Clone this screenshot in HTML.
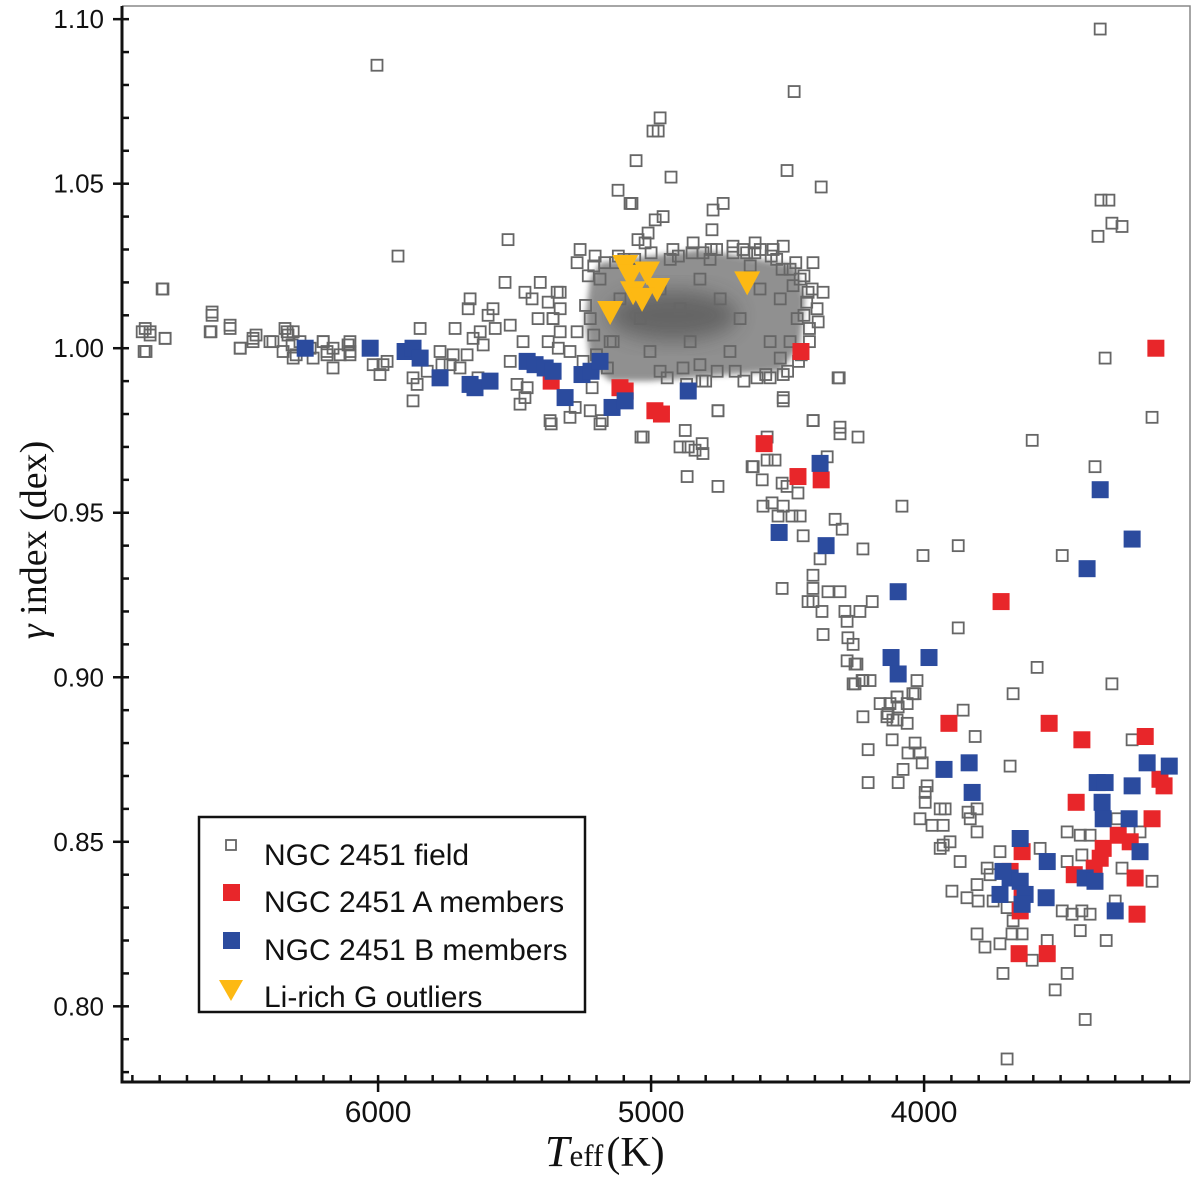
<!DOCTYPE html>
<html><head><meta charset="utf-8"><style>
html,body{margin:0;padding:0;background:#fff;}
svg{display:block;}
</style></head><body>
<svg id="chart" width="1200" height="1182" viewBox="0 0 1200 1182" xmlns="http://www.w3.org/2000/svg">
<defs>
<filter id="blur" x="-20%" y="-20%" width="140%" height="140%"><feGaussianBlur stdDeviation="3"/></filter>
<filter id="blur2" x="-30%" y="-30%" width="160%" height="160%"><feGaussianBlur stdDeviation="10"/></filter>
</defs>
<g id="plot"></g>
<g id="axes"></g>
<g>
<rect x="199" y="817" width="386" height="195" fill="#fff" stroke="#111" stroke-width="2.5"/>
<rect x="226" y="840" width="10" height="10" fill="none" stroke="#666" stroke-width="1.8"/>
<text x="264" y="865" font-family="Liberation Sans, sans-serif" font-size="30" fill="#111">NGC 2451 field</text>
<rect x="223" y="884" width="17" height="17" fill="#e8262a"/>
<text x="264" y="912" font-family="Liberation Sans, sans-serif" font-size="30" fill="#111">NGC 2451 A members</text>
<rect x="223" y="932" width="17" height="17" fill="#2b4b9e"/>
<text x="264" y="960" font-family="Liberation Sans, sans-serif" font-size="30" fill="#111">NGC 2451 B members</text>
<polygon points="219,980 243,980 231,1001" fill="#fdb913"/>
<text x="264" y="1007" font-family="Liberation Sans, sans-serif" font-size="30" fill="#111">Li-rich G outliers</text>
</g>
<text x="545" y="1166" font-family="Liberation Serif, serif" fill="#111"><tspan font-size="44" font-style="italic">T</tspan><tspan font-size="31">eff</tspan><tspan font-size="42" dx="3">(K)</tspan></text>
<text transform="translate(46,540) rotate(-90)" text-anchor="middle" font-family="Liberation Serif, serif" font-size="38" fill="#111"><tspan font-style="italic">γ</tspan> index (dex)</text>
</svg>
<script>
const fieldT=[6853,6850,6835,6780,6788,6612,6608,6542,6505,6458,6447,6396,6341,6330,6315,6286,6300,6249,6201,6187,6165,6110,6103,5927,5846,5718,5663,5670,5579,5597,5535,5626,5571,5516,5652,5615,5469,5406,5462,5436,5344,5377,5414,5359,5333,5377,5516,5491,5454,5462,5370,5872,5857,5872,5820,5773,5766,5736,5700,5674,5725,5993,5982,5967,6018,6103,6103,6165,6139,6201,6187,6238,6311,6348,6385,6333,6311,6458,6505,6542,6615,6608,6791,6780,6835,6864,6857,
5070,4773,4736,4777,4956,4985,5011,5048,5022,5260,5271,5205,4846,4810,4619,4663,4516,4553,4407,4370,4425,4392,4388,4465,4491,4527,4516,4564,4612,4692,4758,4813,4883,4941,5333,5333,5359,5340,5297,5271,5249,5216,5278,5223,5297,5179,4755,4516,4406,4315,4308,5139,
4516,4755,4407,4308,4242,5029,4875,4894,4864,4813,4810,4839,4868,4755,4575,4630,4626,4575,4546,4593,4520,4502,4462,4355,4590,4557,4516,4535,4484,4454,4443,4326,4300,4224,4081,4004,4381,4407,4520,4407,4407,4425,4374,4352,4308,4290,4235,4190,4282,4370,4279,4260,4282,4246,4260,4227,4198,4161,4099,4041,4026,4062,4132,4099,4062,4224,3875,3875,
4253,4224,4253,4033,4099,4125,4095,4136,4114,4117,4033,4059,4015,4007,4077,4205,4205,4095,3989,3996,3996,3941,3923,4015,3971,3930,3930,3905,3941,3839,3806,3831,3806,3868,3898,3843,3802,3806,3769,3758,3722,3857,3813,3674,3685,3586,3312,3238,3575,3476,3428,3392,3293,3209,3476,3422,3275,3165,3747,3696,3494,3458,3422,3392,3300,3674,3678,3641,3806,3777,3722,3549,3604,3428,3333,3711,3476,3520,3410,3696,
3355,3352,3323,3363,3312,3275,3337,3374,3165,3604,3494,6004,4476,4502,4377,4967,4993,4974,5055,4927,5121,5077,5524,4311,5634,5480,5366,5187,5037,
5187,5114,5040,4967,4894,4821,4747,4674,4601,4527,4454,5150,5004,4857,4711,4564,5223,5077,4784,4637,4491,4930,5187,4821,4967,
5230,5240,5210,5200,5160,5130,5100,4900,4870,4800,4760,4700,4660,4620,4580,4540,4500,4470,4440,4430,4420,4460,4480,4520,4560,4600,4650,4700,4780,4850,4920,5000,5060,5120,5170,5210,4440,4420,4410,4450];
const fieldG=[1.006,0.999,1.005,1.003,1.018,1.005,1.010,1.007,1.000,1.002,1.004,1.002,1.006,1.004,1.001,1.002,0.998,1.000,1.002,0.998,1.000,1.001,0.998,1.028,1.006,1.006,1.015,1.012,1.012,1.010,1.020,1.005,1.006,1.007,1.003,1.001,1.002,1.020,1.017,1.015,1.017,1.014,1.009,1.009,1.005,1.002,0.996,0.989,0.988,0.985,0.978,0.984,0.989,0.991,0.993,0.999,0.995,0.995,0.994,0.998,0.998,0.992,0.995,0.996,0.995,1.002,0.999,0.994,0.998,1.002,0.999,0.997,0.997,0.999,1.002,1.005,1.005,1.003,1.000,1.006,1.005,1.011,1.018,1.003,1.004,1.005,0.999,
1.044,1.042,1.044,1.036,1.040,1.039,1.035,1.033,1.032,1.030,1.026,1.028,1.032,1.029,1.032,1.030,1.031,1.030,1.026,1.017,1.017,1.012,1.008,1.009,1.002,0.997,0.992,0.991,0.991,0.993,0.993,0.990,0.994,0.991,1.017,1.012,1.009,1.000,0.999,1.005,0.996,0.988,0.982,0.981,0.979,0.978,0.981,0.985,0.978,0.991,0.976,1.002,
0.984,0.981,0.978,0.974,0.973,0.973,0.975,0.970,0.970,0.971,0.968,0.969,0.961,0.958,0.973,0.964,0.964,0.966,0.966,0.960,0.959,0.958,0.956,0.967,0.952,0.953,0.952,0.949,0.949,0.949,0.943,0.948,0.945,0.939,0.952,0.937,0.936,0.931,0.927,0.927,0.923,0.923,0.920,0.926,0.926,0.920,0.920,0.923,0.917,0.913,0.912,0.910,0.905,0.904,0.898,0.899,0.899,0.892,0.894,0.895,0.899,0.892,0.889,0.887,0.886,0.888,0.940,0.915,
0.904,0.899,0.898,0.895,0.894,0.892,0.891,0.888,0.887,0.881,0.880,0.877,0.877,0.874,0.872,0.878,0.868,0.868,0.867,0.865,0.862,0.860,0.860,0.857,0.855,0.855,0.849,0.850,0.848,0.859,0.860,0.857,0.853,0.844,0.835,0.833,0.832,0.837,0.842,0.840,0.847,0.890,0.882,0.895,0.873,0.903,0.898,0.881,0.848,0.853,0.852,0.852,0.857,0.853,0.844,0.846,0.842,0.838,0.832,0.830,0.829,0.828,0.829,0.828,0.832,0.826,0.822,0.822,0.822,0.818,0.819,0.820,0.814,0.823,0.820,0.810,0.810,0.805,0.796,0.784,
1.097,1.045,1.045,1.034,1.038,1.037,0.997,0.964,0.979,0.972,0.937,1.086,1.078,1.054,1.049,1.070,1.066,1.066,1.057,1.052,1.048,1.044,1.033,0.991,0.991,0.983,0.977,0.977,0.973,
1.021,1.015,1.009,1.018,1.012,1.021,1.015,1.009,1.018,1.015,1.021,1.002,0.999,1.002,0.999,1.002,1.009,1.024,1.027,1.025,1.024,1.027,0.996,0.995,0.993,
1.022,1.013,1.004,0.998,0.994,1.026,1.027,1.028,0.989,0.990,1.030,1.029,0.990,1.029,0.992,1.027,0.993,1.026,1.022,1.014,1.006,0.996,1.019,1.024,1.028,1.030,1.029,1.031,1.030,1.029,1.030,1.029,1.027,1.028,1.026,1.025,1.010,1.002,1.018,0.998];
const memAT=[4451,3151,5366,5114,5095,4986,4962,4586,4462,4377,3718,3909,3542,3422,3190,3443,3121,3136,3165,3289,3245,3344,3355,3227,3641,3685,3450,3641,3648,3652,3549,3220,3377];
const memAG=[0.999,1.000,0.990,0.988,0.987,0.981,0.980,0.971,0.961,0.960,0.923,0.886,0.886,0.881,0.882,0.862,0.867,0.869,0.857,0.852,0.850,0.848,0.845,0.839,0.847,0.841,0.840,0.834,0.829,0.816,0.816,0.828,0.842];
const memBT=[6267,6029,5901,5872,5846,5773,5663,5645,5590,5454,5425,5388,5359,5315,5253,5220,5187,5143,5095,4864,4531,4381,4359,4095,4121,4095,3982,3355,3238,3403,3927,3835,3824,3366,3337,3238,3183,3102,3348,3344,3249,3209,3648,3549,3685,3648,3722,3630,3711,3410,3374,3553,3641,3300];
const memBG=[1.000,1.000,0.999,1.000,0.997,0.991,0.989,0.988,0.990,0.996,0.995,0.994,0.993,0.985,0.992,0.993,0.996,0.982,0.984,0.987,0.944,0.965,0.940,0.926,0.906,0.901,0.906,0.957,0.942,0.933,0.872,0.874,0.865,0.868,0.868,0.867,0.874,0.873,0.862,0.857,0.857,0.847,0.851,0.844,0.839,0.838,0.834,0.834,0.841,0.839,0.838,0.833,0.831,0.829];
const liT=[5095,5077,5015,5066,4978,5033,5150,4648];
const liG=[1.025,1.022,1.023,1.017,1.018,1.015,1.011,1.020];
const cloudT=[5187,5004,4821,4601,4473,4436,4454,4527,4711,4857,5004,5150,5223,5242,5223];
const cloudG=[1.026,1.028,1.030,1.027,1.025,1.015,1.001,0.993,0.992,0.991,0.990,0.990,0.995,1.009,1.021];
const yTicks=[1.10,1.05,1.00,0.95,0.90,0.85,0.80];
const yTickLabels=["1.10","1.05","1.00","0.95","0.90","0.85","0.80"];
const xTicks=[6000,5000,4000];
const xTickLabels=["6000","5000","4000"];

const L=122,R=1190,T0=6,B=1082;
const tMax=6938,tMin=3026,gMax=1.104,gMin=0.777;
function sx(t){return L+(tMax-t)/(tMax-tMin)*(R-L);}
function sy(g){return T0+(gMax-g)/(gMax-gMin)*(B-T0);}
const NS='http://www.w3.org/2000/svg';
const plot=document.getElementById('plot'),axes=document.getElementById('axes');
function mk(tag,attrs,parent){const e=document.createElementNS(NS,tag);for(const k in attrs)e.setAttribute(k,attrs[k]);parent.appendChild(e);return e;}

const pts=cloudT.map((t,i)=>sx(t)+','+sy(cloudG[i])).join(' ');
const cloud=mk('polygon',{points:pts,fill:'#858585',opacity:'0.9',filter:'url(#blur)'},plot);


const cloud2=mk('ellipse',{cx:sx(4920),cy:sy(1.010),rx:65,ry:25,fill:'#333',opacity:'0.45',filter:'url(#blur2)'},plot);



for(let i=0;i<fieldT.length;i++){
  const e=mk('rect',{x:sx(fieldT[i])-5.5,y:sy(fieldG[i])-5.5,width:11,height:11,fill:'none',stroke:'#666','stroke-width':1.8},plot);
  
  
}
for(let i=0;i<memAT.length;i++){
  const e=mk('rect',{x:sx(memAT[i])-8.5,y:sy(memAG[i])-8.5,width:17,height:17,fill:'#e8262a'},plot);
  
  
}
for(let i=0;i<memBT.length;i++){
  const e=mk('rect',{x:sx(memBT[i])-8.5,y:sy(memBG[i])-8.5,width:17,height:17,fill:'#2b4b9e'},plot);
  
  
}
for(let i=0;i<liT.length;i++){
  const x=sx(liT[i]),y=sy(liG[i]);
  const e=mk('polygon',{points:(x-13)+','+(y-11)+' '+(x+13)+','+(y-11)+' '+x+','+(y+13),fill:'#fdb913'},plot);
  
  
}

const fr=mk('path',{d:`M${L},${T0} H${R} V${B}`,fill:'none',stroke:'#888','stroke-width':1.5},axes);


const ax=mk('path',{d:`M${L},${T0} V${B} H${R}`,fill:'none',stroke:'#111','stroke-width':3},axes);


for(let g=0.78;g<=1.1001;g+=0.01){
  const y=sy(g);
  const major=Math.abs(Math.round(g*100)%5)===0;
  const e=mk('line',{x1:major?L-9:L,x2:L+7,y1:y,y2:y,stroke:'#111','stroke-width':2.5},axes);
  
  
}
for(let i=0;i<yTicks.length;i++){
  const e=mk('text',{x:104,y:sy(yTicks[i])+9,'text-anchor':'end','font-family':'Liberation Sans, sans-serif','font-size':26,fill:'#111'},axes);
  e.textContent=yTickLabels[i];
  
  
}
for(let t=6900;t>=3100;t-=100){
  const x=sx(t);
  const major=t%1000===0;
  const e=mk('line',{x1:x,x2:x,y1:B-7,y2:major?B+10:B,stroke:'#111','stroke-width':2.5},axes);
  
  
}
for(let i=0;i<xTicks.length;i++){
  const e=mk('text',{x:sx(xTicks[i]),y:1122,'text-anchor':'middle','font-family':'Liberation Sans, sans-serif','font-size':30,fill:'#111'},axes);
  e.textContent=xTickLabels[i];
  
  
}
</script>
</body></html>
